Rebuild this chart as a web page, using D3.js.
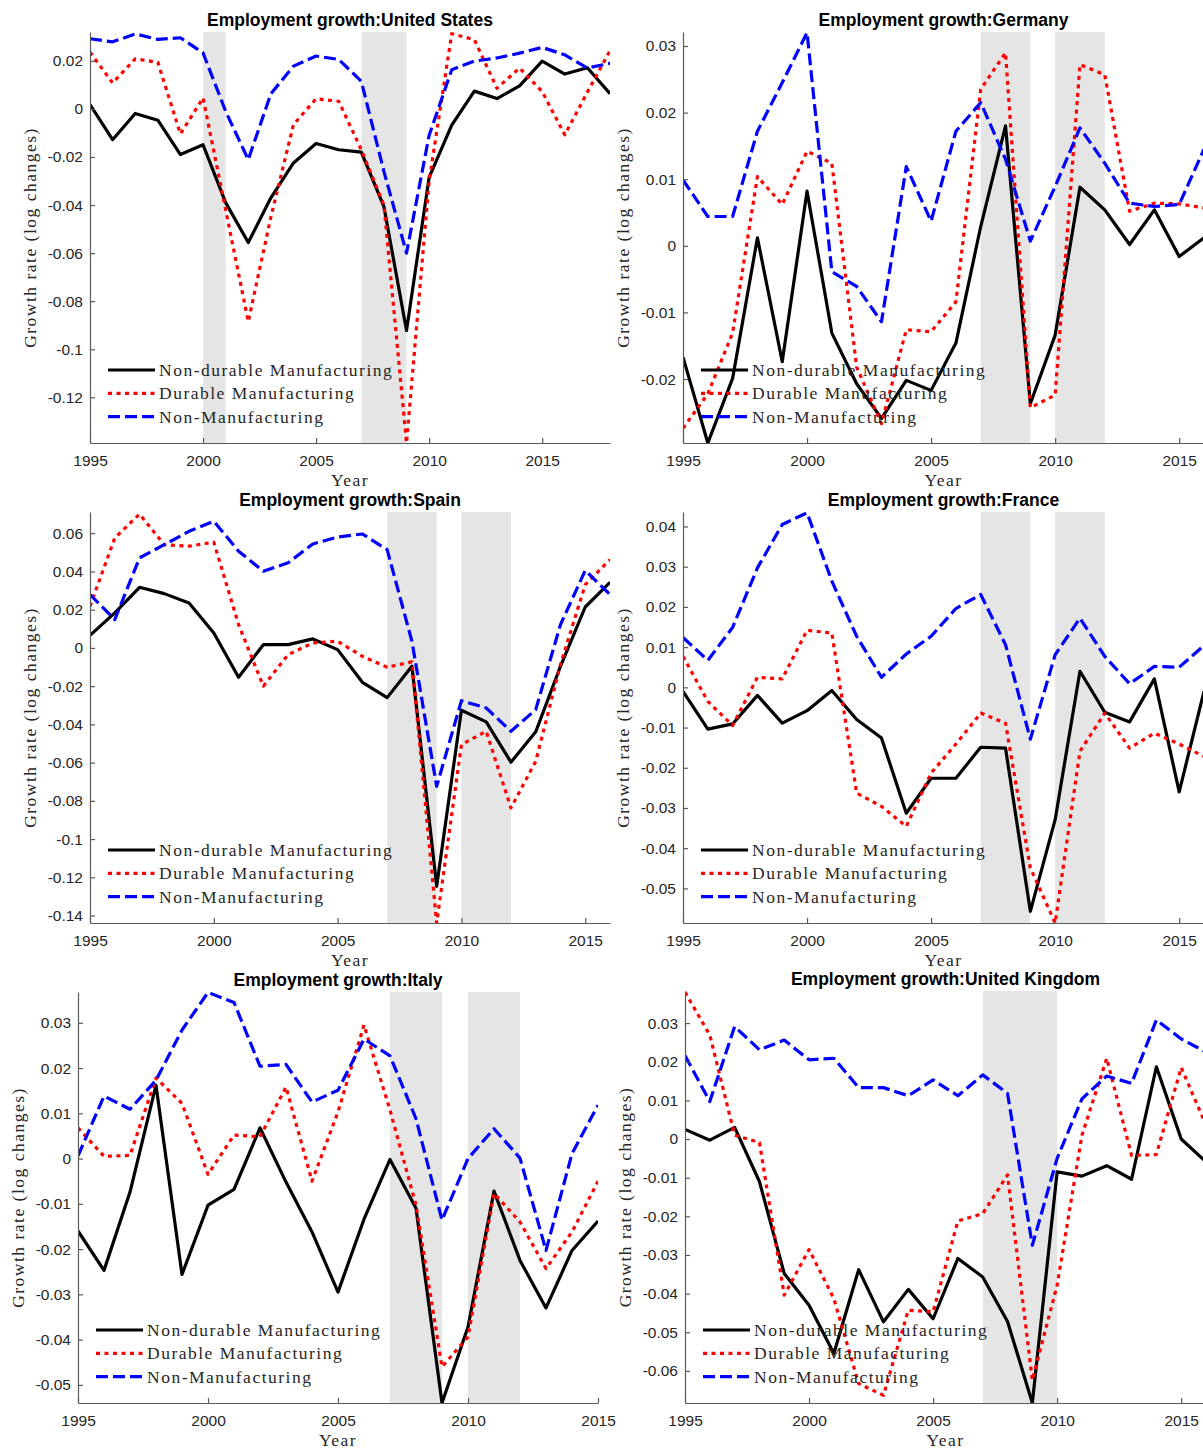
<!DOCTYPE html>
<html>
<head>
<meta charset="utf-8">
<script src="https://cdn.jsdelivr.net/npm/d3@7"></script>
<style>
  html, body { margin: 0; padding: 0; background: #fff; }
  svg { display: block; }
  .axis text { font-family: 'Liberation Sans', Arial, sans-serif; font-size: 15.5px; fill: #262626; }
  .axis path, .axis line { stroke: #5a5a5a; stroke-width: 1.2; }
  .title { font-family: 'Liberation Sans', Arial, sans-serif; font-size: 17.5px; font-weight: bold; fill: #000; }
  .serif { font-family: 'Liberation Serif', 'Times New Roman', serif; font-size: 17.5px; letter-spacing: 1.5px; fill: #262626; }
</style>
</head>
<body>
<div id="chart"></div>
<script>
const years1995to2018 = [1995, 1996, 1997, 1998, 1999, 2000, 2001, 2002, 2003, 2004, 2005, 2006,
  2007, 2008, 2009, 2010, 2011, 2012, 2013, 2014, 2015, 2016, 2017, 2018];
const years1995to2016 = [1995, 1996, 1997, 1998, 1999, 2000, 2001, 2002, 2003, 2004, 2005, 2006,
  2007, 2008, 2009, 2010, 2011, 2012, 2013, 2014, 2015, 2016];
const years1995to2015 = [1995, 1996, 1997, 1998, 1999, 2000, 2001, 2002, 2003, 2004, 2005, 2006,
  2007, 2008, 2009, 2010, 2011, 2012, 2013, 2014, 2015];

const seriesNames = ['Non-durable Manufacturing', 'Durable Manufacturing', 'Non-Manufacturing'];
const yearTicks = [1995, 2000, 2005, 2010, 2015];

// United States
const usNonDurable = [0.0018, -0.0128, -0.0019, -0.0047, -0.019, -0.0149, -0.039, -0.0556, -0.037, -0.0225,
  -0.0144, -0.017, -0.018, -0.0407, -0.0922, -0.0285, -0.0067, 0.0074, 0.0043, 0.0096, 0.0199, 0.0145, 0.0171, 0.0063];
const usDurable = [0.0236, 0.0108, 0.0208, 0.0194, -0.0104, 0.0046, -0.042, -0.0885, -0.045, -0.0065,
  0.0042, 0.0032, -0.017, -0.04, -0.139, -0.03, 0.0313, 0.0288, 0.0086, 0.017, 0.0072, -0.0108, 0.007, 0.0242];
const usNonManuf = [0.0292, 0.0279, 0.0312, 0.0289, 0.0296, 0.0233, -0.001, -0.0211, 0.0063, 0.0178,
  0.022, 0.0206, 0.0115, -0.026, -0.060, -0.011, 0.0163, 0.0199, 0.0212, 0.0232, 0.0256, 0.0225, 0.017, 0.019];

// Germany
const deNonDurable = [-0.0167, -0.0296, -0.0199, 0.0012, -0.0174, 0.0082, -0.0131, -0.0207, -0.0259, -0.0202,
  -0.0217, -0.0146, 0.0029, 0.018, -0.0237, -0.0134, 0.0088, 0.0054, 0.0002, 0.0054, -0.0016, 0.0012];
const deDurable = [-0.0274, -0.0222, -0.0131, 0.0104, 0.0062, 0.0142, 0.0124, -0.0182, -0.0267, -0.0126,
  -0.0129, -0.0084, 0.0235, 0.029, -0.0243, -0.0224, 0.0272, 0.0257, 0.0052, 0.0064, 0.0063, 0.0057];
const deNonManuf = [0.0099, 0.0044, 0.0044, 0.0172, 0.0245, 0.032, -0.0039, -0.0061, -0.0114, 0.0119,
  0.0037, 0.0172, 0.0215, 0.013, 0.0007, 0.0089, 0.0177, 0.0124, 0.0064, 0.0059, 0.0062, 0.0145];

// Spain
const esNonDurable = [0.0066, 0.0183, 0.0317, 0.0284, 0.0235, 0.0078, -0.0153, 0.0017, 0.0017, 0.0047,
  -0.0009, -0.018, -0.026, -0.0096, -0.1247, -0.0326, -0.0387, -0.0598, -0.0439, -0.0096, 0.0214, 0.0343];
const esDurable = [0.0218, 0.0575, 0.070, 0.054, 0.0532, 0.0553, 0.0122, -0.020, -0.0035, 0.0026,
  0.0035, -0.0044, -0.0101, -0.0073, -0.1439, -0.0506, -0.0436, -0.0837, -0.0593, -0.0087, 0.0331, 0.0462];
const esNonManuf = [0.0279, 0.0148, 0.0471, 0.054, 0.061, 0.0663, 0.0506, 0.0401, 0.0445, 0.0544,
  0.058, 0.0596, 0.0514, 0.0035, -0.0724, -0.0276, -0.0314, -0.0436, -0.0323, 0.0122, 0.0405, 0.0279];

// France
const frNonDurable = [-0.001, -0.0104, -0.0091, -0.002, -0.0089, -0.0058, -0.0008, -0.008, -0.0126, -0.0313,
  -0.0226, -0.0226, -0.0149, -0.0151, -0.0557, -0.0329, 0.004, -0.0062, -0.0086, 0.0021, -0.026, -0.001];
const frDurable = [0.0077, -0.0035, -0.0095, 0.0025, 0.0021, 0.0142, 0.0135, -0.0263, -0.0296, -0.0346,
  -0.0213, -0.0141, -0.0064, -0.0089, -0.0449, -0.0586, -0.0159, -0.0064, -0.0151, -0.0114, -0.0141, -0.0172];
const frNonManuf = [0.0124, 0.0067, 0.0149, 0.0297, 0.0405, 0.0434, 0.0264, 0.0127, 0.0025, 0.0083,
  0.0127, 0.0196, 0.0231, 0.0106, -0.0129, 0.0081, 0.0172, 0.0077, 0.0009, 0.0052, 0.005, 0.0104];

// Italy
const itNonDurable = [-0.016, -0.0247, -0.0074, 0.0162, -0.0256, -0.0103, -0.0068, 0.0068, -0.0052, -0.0162,
  -0.0295, -0.0134, -0.0002, -0.011, -0.054, -0.0372, -0.0072, -0.0225, -0.033, -0.0203, -0.0138];
const itDurable = [0.0068, 0.0005, 0.0007, 0.0178, 0.0122, -0.0035, 0.0052, 0.0048, 0.0158, -0.005,
  0.0103, 0.0295, 0.0107, -0.0103, -0.046, -0.0394, -0.0077, -0.014, -0.0243, -0.0162, -0.005];
const itNonManuf = [0.0006, 0.0138, 0.0109, 0.0173, 0.0284, 0.0367, 0.0345, 0.0204, 0.0208, 0.0125,
  0.0151, 0.0264, 0.0227, 0.0088, -0.0136, 0.0, 0.0066, 0.0001, -0.0203, 0.0011, 0.0118];

// United Kingdom
const ukNonDurable = [0.0025, -0.0003, 0.003, -0.011, -0.0348, -0.043, -0.0555, -0.0338, -0.0473, -0.0389,
  -0.0465, -0.0309, -0.0357, -0.0472, -0.0683, -0.0085, -0.0096, -0.0069, -0.0104, 0.0187, 0.0, -0.0059];
const ukDurable = [0.038, 0.0269, 0.001, -0.0009, -0.0404, -0.0286, -0.0413, -0.0633, -0.0663, -0.0443,
  -0.0447, -0.0212, -0.0193, -0.0093, -0.0624, -0.0378, 0.001, 0.0209, -0.0043, -0.004, 0.0185, 0.0036];
const ukNonManuf = [0.0216, 0.0097, 0.0291, 0.0231, 0.0256, 0.0205, 0.0209, 0.0133, 0.0133, 0.0112,
  0.0153, 0.0112, 0.0166, 0.0118, -0.0275, -0.005, 0.0104, 0.0163, 0.0144, 0.0308, 0.0259, 0.0225];

// recession bands and axis limits (MATLAB "axis tight")
const usRecessions = [[2000, 2001], [2007, 2009]];
const euRecessions = [[2007, 2009], [2010, 2012]];
const ukRecessions = [[2007, 2010]];

const usYLim = [-0.139, 0.032];
const deYLim = [-0.0296, 0.0321];
const esYLim = [-0.1439, 0.0711];
const frYLim = [-0.0586, 0.0436];
const itYLim = [-0.054, 0.0368];
const ukYLim = [-0.0683, 0.0383];

const usYTicks = [-0.12, -0.1, -0.08, -0.06, -0.04, -0.02, 0, 0.02];
const deYTicks = [-0.02, -0.01, 0, 0.01, 0.02, 0.03];
const esYTicks = [-0.14, -0.12, -0.1, -0.08, -0.06, -0.04, -0.02, 0, 0.02, 0.04, 0.06];
const frYTicks = [-0.05, -0.04, -0.03, -0.02, -0.01, 0, 0.01, 0.02, 0.03, 0.04];
const itYTicks = [-0.05, -0.04, -0.03, -0.02, -0.01, 0, 0.01, 0.02, 0.03];
const ukYTicks = [-0.06, -0.05, -0.04, -0.03, -0.02, -0.01, 0, 0.01, 0.02, 0.03];

const seriesStyles = [
  { color: '#000000', dash: null },
  { color: '#ff0000', dash: '4,4.5' },
  { color: '#0000ff', dash: '12,5' },
];

const panels = [
  { title: 'United States', years: years1995to2018, series: [usNonDurable, usDurable, usNonManuf],
    recessions: usRecessions, yLim: usYLim, yTicks: usYTicks, box: { left: 90, right: 610, top: 32, bottom: 443 } },
  { title: 'Germany', years: years1995to2016, series: [deNonDurable, deDurable, deNonManuf],
    recessions: euRecessions, yLim: deYLim, yTicks: deYTicks, box: { left: 683, right: 1204, top: 32, bottom: 443 } },
  { title: 'Spain', years: years1995to2016, series: [esNonDurable, esDurable, esNonManuf],
    recessions: euRecessions, yLim: esYLim, yTicks: esYTicks, box: { left: 90, right: 610, top: 512, bottom: 923 } },
  { title: 'France', years: years1995to2016, series: [frNonDurable, frDurable, frNonManuf],
    recessions: euRecessions, yLim: frYLim, yTicks: frYTicks, box: { left: 683, right: 1204, top: 512, bottom: 923 } },
  { title: 'Italy', years: years1995to2015, series: [itNonDurable, itDurable, itNonManuf],
    recessions: euRecessions, yLim: itYLim, yTicks: itYTicks, box: { left: 78, right: 598, top: 992, bottom: 1403 } },
  { title: 'United Kingdom', years: years1995to2016, series: [ukNonDurable, ukDurable, ukNonManuf],
    recessions: ukRecessions, yLim: ukYLim, yTicks: ukYTicks, box: { left: 685, right: 1206, top: 991, bottom: 1403 } },
];

const width = 1203;
const height = 1450;

const svg = d3.select('#chart')
  .append('svg')
  .attr('width', width)
  .attr('height', height);

const formatTick = (d) => (Math.abs(d) < 1e-9 ? '0' : String(+d.toFixed(4)));

function drawPanel(panel, i) {
  const { left, right, top, bottom } = panel.box;
  const x = d3.scaleLinear()
    .domain(d3.extent(panel.years))
    .range([left, right]);
  const y = d3.scaleLinear()
    .domain(panel.yLim)
    .range([bottom, top]);

  const g = svg.append('g').attr('class', 'panel');
  const clipId = `clip-${i}`;
  g.append('clipPath')
    .attr('id', clipId)
    .append('rect')
    .attr('x', left)
    .attr('y', top)
    .attr('width', right - left)
    .attr('height', bottom - top);

  g.append('g')
    .selectAll('rect')
    .data(panel.recessions)
    .join('rect')
    .attr('x', (d) => x(d[0]))
    .attr('y', top)
    .attr('width', (d) => x(d[1]) - x(d[0]))
    .attr('height', bottom - top)
    .attr('fill', '#e5e5e5');

  const line = d3.line()
    .x((d, j) => x(panel.years[j]))
    .y((d) => y(d));

  g.append('g')
    .attr('clip-path', `url(#${clipId})`)
    .selectAll('path')
    .data(panel.series)
    .join('path')
    .attr('d', line)
    .attr('fill', 'none')
    .attr('stroke', (d, j) => seriesStyles[j].color)
    .attr('stroke-width', 3.2)
    .attr('stroke-linejoin', 'round')
    .attr('stroke-dasharray', (d, j) => seriesStyles[j].dash);

  g.append('g')
    .attr('class', 'axis')
    .attr('transform', `translate(${left},0)`)
    .call(d3.axisLeft(y).tickValues(panel.yTicks).tickFormat(formatTick)
      .tickSizeInner(-5).tickSizeOuter(0).tickPadding(7));

  g.append('g')
    .attr('class', 'axis')
    .attr('transform', `translate(0,${bottom})`)
    .call(d3.axisBottom(x).tickValues(yearTicks).tickFormat(d3.format('d'))
      .tickSizeInner(-5).tickSizeOuter(0).tickPadding(12));

  g.append('text')
    .attr('class', 'title')
    .attr('x', (left + right) / 2)
    .attr('y', top - 6)
    .attr('text-anchor', 'middle')
    .text(`Employment growth:${panel.title}`);

  g.append('text')
    .attr('class', 'serif')
    .attr('x', (left + right) / 2)
    .attr('y', bottom + 43)
    .attr('text-anchor', 'middle')
    .text('Year');

  g.append('text')
    .attr('class', 'serif')
    .attr('transform', `translate(${left - 54},${(top + bottom) / 2}) rotate(-90)`)
    .attr('text-anchor', 'middle')
    .text('Growth rate (log changes)');

  const legend = g.append('g')
    .selectAll('g')
    .data(seriesNames)
    .join('g')
    .attr('transform', (d, j) => `translate(${left + 18},${bottom - 73 + j * 23.3})`);

  legend.append('line')
    .attr('x1', 0)
    .attr('x2', 47)
    .attr('stroke', (d, j) => seriesStyles[j].color)
    .attr('stroke-width', 3.2)
    .attr('stroke-dasharray', (d, j) => seriesStyles[j].dash);

  legend.append('text')
    .attr('class', 'serif')
    .attr('x', 51)
    .attr('y', 6)
    .text((d) => d);
}

panels.forEach(drawPanel);
</script>
</body>
</html>
